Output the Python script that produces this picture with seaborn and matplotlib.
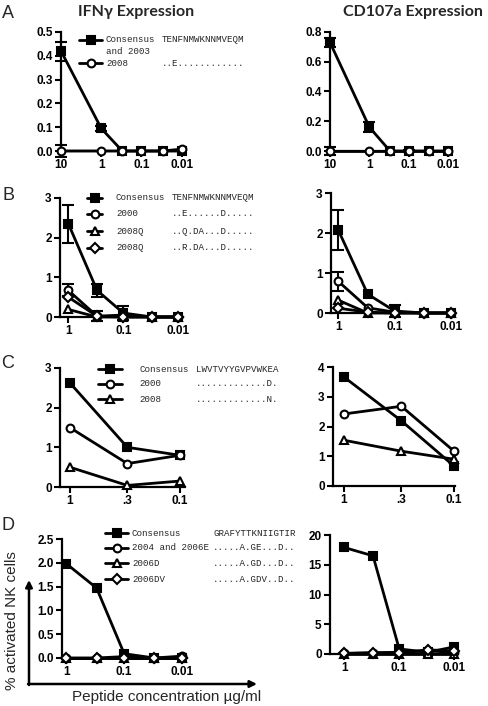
import matplotlib
matplotlib.use('Agg')
import matplotlib.pyplot as plt
from matplotlib.ticker import NullLocator
import numpy as np
import pandas as pd
import seaborn as sns

W, H = 488, 706

# peptide concentrations (ug/ml)
conc_a = [10, 1, 0.3, 0.1, 0.03, 0.01]
conc_b = [1, 0.3, 0.1, 0.03, 0.01]
conc_c = [1, 0.3, 0.1]
conc_d = [1, 0.3, 0.1, 0.03, 0.01]

# panel A
a_ifn_cons = [0.42, 0.095, 0.0, 0.0, 0.0, 0.0]
a_ifn_cons_err = [0.04, 0.012, 0.0, 0.0, 0.0, 0.0]
a_ifn_2008 = [0.0, 0.0, 0.0, 0.0, 0.0, 0.008]
a_ifn_2008_err = [0.025, 0.0, 0.0, 0.0, 0.0, 0.0]
a_cd_cons = [0.73, 0.16, 0.0, 0.0, 0.0, 0.0]
a_cd_cons_err = [0.03, 0.035, 0.0, 0.01, 0.0, 0.0]
a_cd_2008 = [0.0, 0.0, 0.0, 0.0, 0.0, 0.0]
a_cd_2008_err = [0.03, 0.0, 0.0, 0.0, 0.0, 0.0]

# panel B
b_ifn_cons = [2.35, 0.67, 0.1, 0.0, 0.0]
b_ifn_cons_err = [0.48, 0.17, 0.18, 0.0, 0.0]
b_ifn_2000 = [0.67, 0.02, 0.05, 0.0, 0.0]
b_ifn_2000_err = [0.15, 0.12, 0.0, 0.0, 0.0]
b_ifn_2008q = [0.19, 0.0, 0.0, 0.0, 0.0]
b_ifn_2008q_d = [0.5, 0.02, 0.0, 0.0, 0.0]
b_cd_cons = [2.07, 0.47, 0.05, 0.0, 0.0]
b_cd_cons_err = [0.5, 0.0, 0.14, 0.0, 0.0]
b_cd_2000 = [0.79, 0.13, 0.02, 0.0, 0.0]
b_cd_2000_err = [0.24, 0.0, 0.0, 0.0, 0.0]
b_cd_2008q = [0.32, 0.0, 0.0, 0.0, 0.0]
b_cd_2008q_d = [0.12, 0.02, 0.0, 0.0, 0.0]

# panel C
c_ifn_cons = [2.63, 1.0, 0.8]
c_ifn_2000 = [1.5, 0.59, 0.8]
c_ifn_2008 = [0.5, 0.04, 0.15]
c_cd_cons = [3.67, 2.19, 0.67]
c_cd_2000 = [2.42, 2.68, 1.17]
c_cd_2008 = [1.54, 1.17, 0.9]

# panel D
d_ifn_cons = [1.98, 1.47, 0.09, 0.0, 0.0]
d_ifn_2004 = [0.0, 0.0, 0.03, 0.0, 0.04]
d_ifn_2006d = [0.0, 0.0, 0.0, 0.0, 0.0]
d_ifn_2006dv = [0.0, 0.0, 0.0, 0.0, 0.0]
d_cd_cons = [17.9, 16.5, 0.85, 0.3, 1.2]
d_cd_2004 = [0.1, 0.2, 0.3, 0.5, 0.3]
d_cd_2006d = [0.0, 0.0, 0.0, 0.0, 0.0]
d_cd_2006dv = [0.1, 0.2, 0.2, 0.7, 0.5]

# legend text
a_names = ['Consensus', '2008']
a_seqs = ['TENFNMWKNNMVEQM', '..E............']
b_names = ['Consensus', '2000', '2008Q', '2008Q']
b_seqs = ['TENFNMWKNNMVEQM', '..E......D.....', '..Q.DA...D.....', '..R.DA...D.....']
c_names = ['Consensus', '2000', '2008']
c_seqs = ['LWVTVYYGVPVWKEA', '.............D.', '.............N.']
d_names = ['Consensus', '2004 and 2006E', '2006D', '2006DV']
d_seqs = ['GRAFYTTKNIIGTIR', '.....A.GE...D..', '.....A.GD...D..', '.....A.GDV..D..']

# tick labels
xt_a = [10, 1, 0.1, 0.01]
xl_a = ['10', '1', '0.1', '0.01']
xt_bd = [1, 0.1, 0.01]
xl_bd = ['1', '0.1', '0.01']
xt_c = [1, 0.3, 0.1]
xl_c = ['1', '.3', '0.1']

sns.set_theme(style='ticks')
plt.rcParams['font.family'] = ['Liberation Sans', 'DejaVu Sans']

STY = {
    's': dict(marker='s', markersize=5.8, markerfacecolor='black'),
    'o': dict(marker='o', markersize=5.6, markerfacecolor='white'),
    '^': dict(marker='^', markersize=6.2, markerfacecolor='white'),
    'D': dict(marker='D', markersize=4.6, markerfacecolor='white'),
}

fig = plt.figure(figsize=(W / 100, H / 100), dpi=100)


def px_axes(x0, x1, ytop, ybot):
    return fig.add_axes([x0 / W, 1 - ybot / H, (x1 - x0) / W, (ybot - ytop) / H])


def draw_panel(ax, conc, series, xlim, ylim, yticks, ylabels, xticks, xlabels):
    for i, (vals, mk, err) in enumerate(series):
        sns.lineplot(x=conc, y=vals, ax=ax, color='black', linewidth=2.0,
                     markeredgecolor='black', markeredgewidth=1.5,
                     clip_on=False, zorder=3 + i, **STY[mk])
        if err is not None:
            e = np.array(err)
            m = e > 0
            ax.errorbar(np.array(conc)[m], np.array(vals)[m], yerr=e[m], fmt='none',
                        ecolor='black', elinewidth=1.5, capsize=4, capthick=1.5,
                        clip_on=False, zorder=2 + i)
    ax.set_xscale('log')
    ax.set_xlim(*xlim)
    ax.set_ylim(*ylim)
    ax.xaxis.set_minor_locator(NullLocator())
    ax.set_xticks(xticks, xlabels, fontweight='bold', fontsize=8.5)
    ax.set_yticks(yticks, ylabels, fontweight='bold', fontsize=8.5)
    ax.set_xlabel('')
    ax.set_ylabel('')
    ax.tick_params(direction='out', length=4, width=1.5, pad=2, colors='black')
    for s in ['left', 'bottom']:
        ax.spines[s].set_linewidth(1.6)
        ax.spines[s].set_color('black')
    sns.despine(ax=ax)
    ax.set_facecolor('none')


# A
ax = px_axes(61, 183, 32, 151)
draw_panel(ax, conc_a, [(a_ifn_cons, 's', a_ifn_cons_err), (a_ifn_2008, 'o', a_ifn_2008_err)],
           (10, 0.0093), (0, 0.5), [0, 0.1, 0.2, 0.3, 0.4, 0.5],
           ['0.0', '0.1', '0.2', '0.3', '0.4', '0.5'], xt_a, xl_a)
ax = px_axes(330, 452, 32, 151)
draw_panel(ax, conc_a, [(a_cd_cons, 's', a_cd_cons_err), (a_cd_2008, 'o', a_cd_2008_err)],
           (10, 0.008), (0, 0.8), [0, 0.2, 0.4, 0.6, 0.8],
           ['0.0', '0.2', '0.4', '0.6', '0.8'], xt_a, xl_a)

# B
ax = px_axes(60, 183, 198, 317)
draw_panel(ax, conc_b, [(b_ifn_cons, 's', b_ifn_cons_err), (b_ifn_2000, 'o', b_ifn_2000_err),
                        (b_ifn_2008q, '^', None), (b_ifn_2008q_d, 'D', None)],
           (1.42, 0.0082), (0, 3), [0, 1, 2, 3], ['0', '1', '2', '3'], xt_bd, xl_bd)
ax = px_axes(331, 454, 193, 313)
draw_panel(ax, conc_b, [(b_cd_cons, 's', b_cd_cons_err), (b_cd_2000, 'o', b_cd_2000_err),
                        (b_cd_2008q, '^', None), (b_cd_2008q_d, 'D', None)],
           (1.35, 0.0088), (0, 3), [0, 1, 2, 3], ['0', '1', '2', '3'], xt_bd, xl_bd)

# C
ax = px_axes(60, 185, 368, 487)
draw_panel(ax, conc_c, [(c_ifn_cons, 's', None), (c_ifn_2000, 'o', None), (c_ifn_2008, '^', None)],
           (1.225, 0.09), (0, 3), [0, 1, 2, 3], ['0', '1', '2', '3'], xt_c, xl_c)
ax = px_axes(333, 455, 367, 486)
draw_panel(ax, conc_c, [(c_cd_cons, 's', None), (c_cd_2000, 'o', None), (c_cd_2008, '^', None)],
           (1.25, 0.098), (0, 4), [0, 1, 2, 3, 4], ['0', '1', '2', '3', '4'], xt_c, xl_c)

# D
ax = px_axes(62, 187, 539, 658)
draw_panel(ax, conc_d, [(d_ifn_cons, 's', None), (d_ifn_2004, 'o', None),
                        (d_ifn_2006d, '^', None), (d_ifn_2006dv, 'D', None)],
           (1.19, 0.0082), (0, 2.5), [0, 0.5, 1.0, 1.5, 2.0, 2.5],
           ['0.0', '0.5', '1.0', '1.5', '2.0', '2.5'], xt_bd, xl_bd)
ax = px_axes(330, 458, 535, 654)
draw_panel(ax, conc_d, [(d_cd_cons, 's', None), (d_cd_2004, 'o', None),
                        (d_cd_2006d, '^', None), (d_cd_2006dv, 'D', None)],
           (1.82, 0.0085), (0, 20), [0, 5, 10, 15, 20], ['0', '5', '10', '15', '20'], xt_bd, xl_bd)

# overlay in pixel coordinates for legends, labels, arrows
ov = fig.add_axes([0, 0, 1, 1])
ov.set_xlim(0, W)
ov.set_ylim(H, 0)
ov.axis('off')


def legend(rows_y, markers, names, seqs, hx0, hx1, tx, sx):
    for y, mk, nm, sq in zip(rows_y, markers, names, seqs):
        ov.plot([hx0, hx1], [y, y], color='black', lw=2.0)
        ov.plot([(hx0 + hx1) / 2], [y], color='black', markeredgecolor='black',
                markeredgewidth=1.5, **STY[mk])
        ov.text(tx, y, nm, family='Liberation Mono', fontsize=6.6, va='center', ha='left')
        ov.text(sx, y, sq, family='Liberation Mono', fontsize=6.6, va='center', ha='left')


legend([40, 63], ['s', 'o'], a_names, a_seqs, 79, 102, 106, 162)
ov.text(106, 52, 'and 2003', family='Liberation Mono', fontsize=6.6, va='center', ha='left')
legend([198, 214, 231, 248], ['s', 'o', '^', 'D'], b_names, b_seqs, 87, 102, 116, 172)
legend([369, 384, 399], ['s', 'o', '^'], c_names, c_seqs, 98, 122, 139, 196)
legend([533, 548, 563, 579], ['s', 'o', '^', 'D'], d_names, d_seqs, 105, 128, 132, 213)

# headers and panel letters
ov.text(136, 12, 'IFN\u03b3 Expression', fontsize=11.5, fontweight='bold', ha='center', va='center',
        family=['Lato', 'DejaVu Sans'])
ov.text(413, 12, 'CD107a Expression', fontsize=11.5, fontweight='bold', ha='center', va='center',
        family=['Lato', 'DejaVu Sans'])
for letter, y in zip(['A', 'B', 'C', 'D'], [14, 195, 363, 526]):
    ov.text(8, y, letter, fontsize=13, ha='center', va='center')

# axis arrows and labels
ov.annotate('', xy=(29, 580), xytext=(29, 685),
            arrowprops=dict(arrowstyle='-|>', color='black', lw=1.8, mutation_scale=10,
                            shrinkA=0, shrinkB=0))
ov.annotate('', xy=(257, 684), xytext=(28, 684),
            arrowprops=dict(arrowstyle='-|>', color='black', lw=1.8, mutation_scale=10,
                            shrinkA=0, shrinkB=0))
ov.text(12, 621, '% activated NK cells', fontsize=11, rotation=90, ha='center', va='center')
ov.text(167, 697, 'Peptide concentration \u00b5g/ml', fontsize=11, ha='center', va='center')

fig.savefig('out.png', dpi=100)
